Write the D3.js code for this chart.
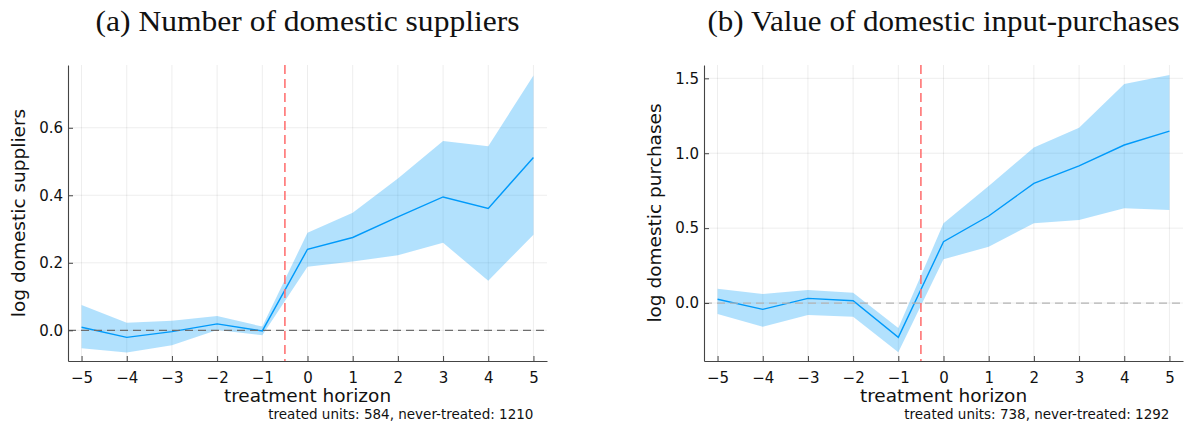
<!DOCTYPE html>
<html>
<head>
<meta charset="utf-8">
<script src="https://cdn.jsdelivr.net/npm/d3@7"></script>
<style>
  html, body { margin: 0; padding: 0; background: #fff; }
  svg { display: block; }
</style>
</head>
<body>
<svg id="chart" width="1199" height="423"></svg>
<script>
// Event-study estimates by treatment horizon, with confidence bands
const horizon = [-5, -4, -3, -2, -1, 0, 1, 2, 3, 4, 5];

const suppliersEst = [0.009, -0.021, -0.004, 0.019, -0.002, 0.240, 0.275, 0.336, 0.395, 0.361, 0.512];
const suppliersLo  = [-0.053, -0.066, -0.044, 0.001, -0.015, 0.188, 0.204, 0.222, 0.259, 0.147, 0.283];
const suppliersHi  = [0.075, 0.022, 0.028, 0.042, 0.011, 0.289, 0.348, 0.450, 0.561, 0.545, 0.755];

const purchasesEst = [0.025, -0.042, 0.031, 0.015, -0.229, 0.409, 0.581, 0.799, 0.915, 1.055, 1.148];
const purchasesLo  = [-0.073, -0.158, -0.080, -0.091, -0.329, 0.292, 0.376, 0.532, 0.554, 0.632, 0.621];
const purchasesHi  = [0.095, 0.060, 0.087, 0.069, -0.167, 0.532, 0.781, 1.039, 1.170, 1.462, 1.522];

const xTicks = [-5, -4, -3, -2, -1, 0, 1, 2, 3, 4, 5];
const suppliersTicks = [0, 0.2, 0.4, 0.6];
const purchasesTicks = [0, 0.5, 1.0, 1.5];

const treatmentStart = -0.5;

const panels = [
  {
    title: "(a) Number of domestic suppliers",
    ylabel: "log domestic suppliers",
    note: "treated units: 584, never-treated: 1210",
    est: suppliersEst, lo: suppliersLo, hi: suppliersHi,
    yTicks: suppliersTicks, yDomain: [-0.091, 0.786],
    left: 68, right: 547, zeroColor: "#6e6e6e", titleWidth: 424
  },
  {
    title: "(b) Value of domestic input-purchases",
    ylabel: "log domestic purchases",
    note: "treated units: 738, never-treated: 1292",
    est: purchasesEst, lo: purchasesLo, hi: purchasesHi,
    yTicks: purchasesTicks, yDomain: [-0.387, 1.589],
    left: 704, right: 1183, zeroColor: "#b4b4b4", titleWidth: 472
  }
];

const plotTop = 65, plotBottom = 361;
const svg = d3.select("#chart");
const sans = "'DejaVu Sans', sans-serif";
const fmtMinus = v => (v < 0 ? "\u2212" + Math.abs(v) : String(v));

panels.forEach(p => {
  const x = d3.scaleLinear().domain([-5.3, 5.3]).range([p.left, p.right]);
  const y = d3.scaleLinear().domain(p.yDomain).range([plotBottom, plotTop]);
  const g = svg.append("g");

  // grid
  g.append("g").selectAll("line").data(xTicks).join("line")
    .attr("x1", d => x(d)).attr("x2", d => x(d))
    .attr("y1", plotTop).attr("y2", plotBottom)
    .attr("stroke", "#000").attr("stroke-opacity", 0.09).attr("stroke-width", 0.8);
  g.append("g").selectAll("line").data(p.yTicks).join("line")
    .attr("x1", p.left).attr("x2", p.right)
    .attr("y1", d => y(d)).attr("y2", d => y(d))
    .attr("stroke", "#000").attr("stroke-opacity", 0.09).attr("stroke-width", 0.8);

  const rows = horizon.map((h, i) => ({ h, est: p.est[i], lo: p.lo[i], hi: p.hi[i] }));

  // confidence band
  g.append("path").datum(rows)
    .attr("d", d3.area().x(d => x(d.h)).y0(d => y(d.lo)).y1(d => y(d.hi)))
    .attr("fill", "#009afa").attr("fill-opacity", 0.3);

  // point estimates
  g.append("path").datum(rows)
    .attr("d", d3.line().x(d => x(d.h)).y(d => y(d.est)))
    .attr("fill", "none").attr("stroke", "#009afa").attr("stroke-width", 1.4);

  // zero reference line
  g.append("line")
    .attr("x1", p.left).attr("x2", p.right)
    .attr("y1", y(0)).attr("y2", y(0))
    .attr("stroke", p.zeroColor).attr("stroke-width", 1.3)
    .attr("stroke-dasharray", "8,5");

  // treatment onset
  g.append("line")
    .attr("x1", x(treatmentStart)).attr("x2", x(treatmentStart))
    .attr("y1", plotTop).attr("y2", plotBottom)
    .attr("stroke", "#ff7373").attr("stroke-width", 1.6)
    .attr("stroke-dasharray", "9,5");

  // axes
  const xAxis = d3.axisBottom(x).tickValues(xTicks).tickFormat(fmtMinus)
    .tickSizeInner(-5).tickSizeOuter(0).tickPadding(10);
  const gx = g.append("g").attr("transform", `translate(0,${plotBottom})`).call(xAxis);
  const yAxis = d3.axisLeft(y).tickValues(p.yTicks).tickFormat(d3.format(".1f"))
    .tickSizeInner(-5).tickSizeOuter(0).tickPadding(10);
  const gy = g.append("g").attr("transform", `translate(${p.left},0)`).call(yAxis);
  [gx, gy].forEach(a => {
    a.select(".domain").attr("stroke", "#444").attr("stroke-width", 1.1);
    a.selectAll(".tick line").attr("stroke", "#444").attr("stroke-width", 1);
    a.selectAll(".tick text").attr("fill", "#111")
      .style("font-family", sans).style("font-size", "15px");
  });
  gx.selectAll(".tick text").attr("y", 11);
  gy.selectAll(".tick text").attr("x", -5);

  // labels
  const cx = (p.left + p.right) / 2;
  g.append("text").attr("x", cx).attr("y", 402)
    .attr("text-anchor", "middle").attr("fill", "#111")
    .style("font-family", sans).style("font-size", "18.5px")
    .text("treatment horizon");
  g.append("text")
    .attr("transform", `translate(${p.left - 49},${(plotTop + plotBottom) / 2}) rotate(-90)`)
    .attr("text-anchor", "middle").attr("dy", "0.35em").attr("fill", "#111")
    .style("font-family", sans).style("font-size", "18.5px")
    .text(p.ylabel);
  g.append("text").attr("x", x(5)).attr("y", 419)
    .attr("text-anchor", "end").attr("fill", "#111")
    .style("font-family", sans).style("font-size", "13.5px")
    .text(p.note);
  g.append("text").attr("x", cx).attr("y", 31)
    .attr("text-anchor", "middle").attr("fill", "#111")
    .attr("textLength", p.titleWidth).attr("lengthAdjust", "spacingAndGlyphs")
    .style("font-family", "'Liberation Serif', serif").style("font-size", "29px")
    .text(p.title);
});
</script>
</body>
</html>
